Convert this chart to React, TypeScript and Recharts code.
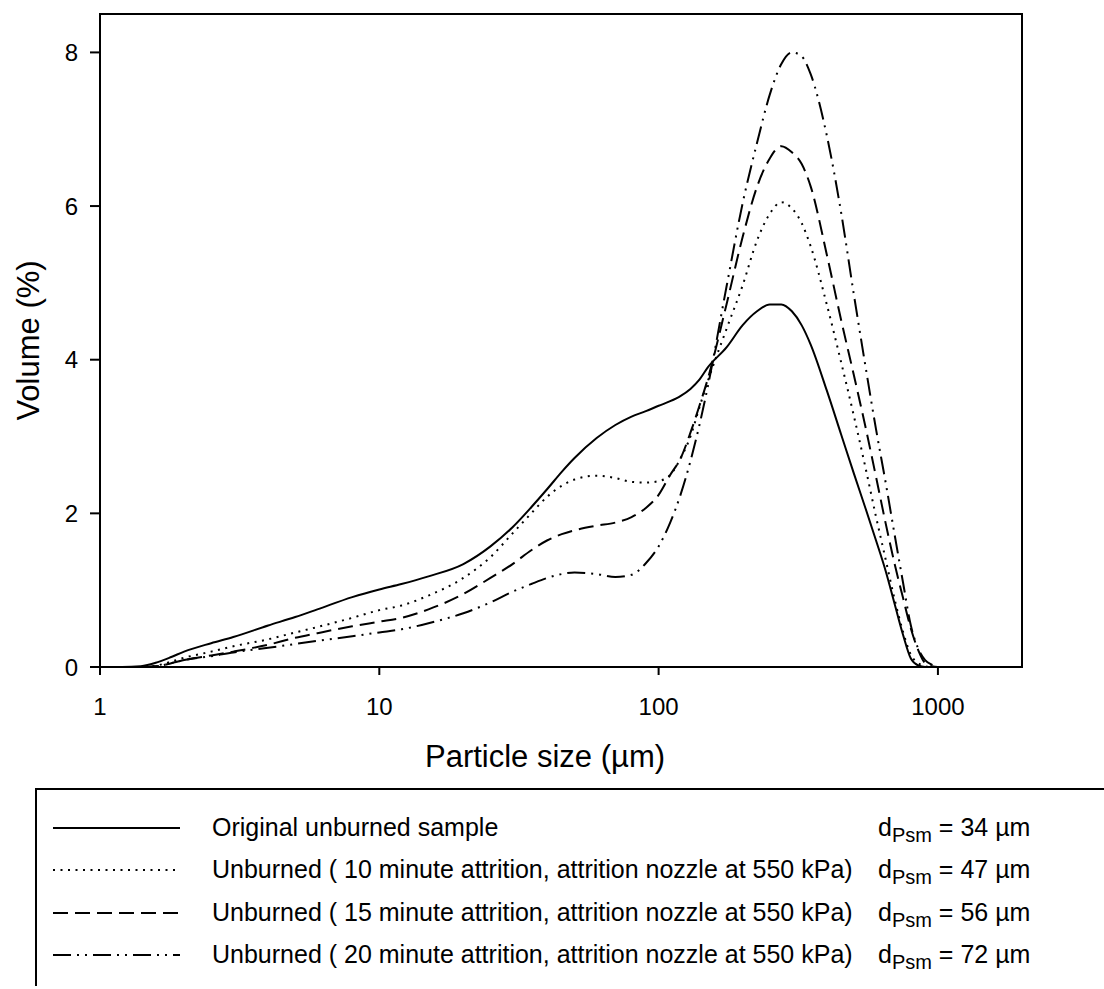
import React from 'react'
import {
    LineChart,
    Line,
    XAxis,
    YAxis,
    ReferenceArea,
} from 'recharts'

// particle size (µm), log axis
const sizes = [
    1, 1.2, 1.4, 1.6, 1.8, 2, 2.5, 3, 4, 5, 6, 8, 10, 12, 15, 20, 25, 30,
    35, 40, 45, 50, 60, 70, 80, 90, 100, 110, 120, 130, 140, 150, 175, 200, 225, 250,
    275, 300, 325, 350, 400, 450, 500, 550, 600, 650, 700, 750, 800, 850, 900, 950,
    1000, 1100, 1250,
]

// volume (%)
const original = [
    0, 0, 0.01, 0.06, 0.13, 0.2, 0.31, 0.39, 0.54, 0.65, 0.75, 0.91, 1.01, 1.08, 1.18, 1.34, 1.57, 1.82,
    2.08, 2.32, 2.54, 2.72, 2.98, 3.15, 3.26, 3.33, 3.4, 3.46, 3.53, 3.62, 3.74, 3.9, 4.16, 4.45, 4.63, 4.72,
    4.72, 4.63, 4.45, 4.2, 3.6, 3.03, 2.52, 2.07, 1.65, 1.25, 0.82, 0.42, 0.11, 0.02, 0, 0,
    0, 0, 0,
]
const min10 = [
    0, 0, 0, 0.02, 0.07, 0.12, 0.2, 0.27, 0.36, 0.45, 0.52, 0.64, 0.74, 0.8, 0.93, 1.16, 1.43, 1.74,
    2.0, 2.22, 2.36, 2.44, 2.49, 2.46, 2.41, 2.4, 2.42, 2.5, 2.72, 3.0, 3.38, 3.72, 4.4, 4.97, 5.55, 5.9,
    6.05, 5.97, 5.78, 5.48, 4.72, 3.97, 3.27, 2.6, 1.96, 1.4, 0.88, 0.46, 0.16, 0.05, 0.01, 0,
    0, 0, 0,
]
const min15 = [
    0, 0, 0, 0.01, 0.05, 0.09, 0.15, 0.2, 0.29, 0.38, 0.44, 0.53, 0.59, 0.64, 0.75, 0.95, 1.16, 1.34,
    1.52, 1.65, 1.73, 1.78, 1.84, 1.88, 1.95, 2.07, 2.24, 2.5, 2.72, 3.05, 3.4, 3.75, 4.72, 5.6, 6.25, 6.62,
    6.78, 6.7, 6.55, 6.26, 5.37, 4.52, 3.8, 3.13, 2.48, 1.87, 1.34, 0.9, 0.5, 0.22, 0.05, 0.01,
    0, 0, 0,
]
const min20 = [
    0, 0, 0, 0.01, 0.05, 0.09, 0.14, 0.19, 0.25, 0.3, 0.34, 0.4, 0.45, 0.49, 0.57, 0.7, 0.84, 0.98,
    1.08, 1.16, 1.21, 1.23, 1.21, 1.17, 1.2, 1.35, 1.57, 1.88, 2.25, 2.68, 3.15, 3.65, 4.95, 6.04, 6.82, 7.45,
    7.85, 8.0, 7.95, 7.72, 6.92, 5.92, 4.85, 3.92, 3.1, 2.4, 1.72, 1.1, 0.54, 0.24, 0.09, 0.03,
    0, 0, 0,
]

const xTicks = [1, 10, 100, 1000]
const yTicks = [0, 2, 4, 6, 8]

const legendItems = [
    { label: 'Original unburned sample', dpsm: '34', dash: undefined },
    { label: 'Unburned ( 10 minute attrition, attrition nozzle at 550 kPa)', dpsm: '47', dash: '2 5.5' },
    { label: 'Unburned ( 15 minute attrition, attrition nozzle at 550 kPa)', dpsm: '56', dash: '15 7' },
    { label: 'Unburned ( 20 minute attrition, attrition nozzle at 550 kPa)', dpsm: '72', dash: '18 6 2 6 2 6' },
]

const data = sizes.map((s, i) => ({
    size: s,
    original: original[i],
    min10: min10[i],
    min15: min15[i],
    min20: min20[i],
}))

const font = '"Liberation Sans", Arial, sans-serif'

export default function App() {
    const rowBase = [836, 878, 921, 963]
    return (
        <div style={{ position: 'absolute', left: 0, top: 0, width: 1104, height: 989, background: '#fff', fontFamily: font }}>
            <LineChart
                width={1104}
                height={989}
                data={data}
                margin={{ top: 14, right: 82, bottom: 212, left: 0 }}
            >
                <XAxis
                    dataKey="size"
                    type="number"
                    scale="log"
                    domain={[1, 2000]}
                    ticks={xTicks}
                    height={110}
                    stroke="#000"
                    strokeWidth={2}
                    tickSize={8}
                    tickMargin={23}
                    tick={{ fill: '#000', fontSize: 24, fontFamily: font }}
                    label={{
                        value: 'Particle size (µm)',
                        position: 'insideTop',
                        offset: 78,
                        dx: -16,
                        style: { fill: '#000', fontSize: 31, fontFamily: font },
                    }}
                />
                <YAxis
                    type="number"
                    domain={[0, 8.5]}
                    ticks={yTicks}
                    width={100}
                    stroke="#000"
                    strokeWidth={2}
                    tickSize={10}
                    tickMargin={12}
                    tick={{ fill: '#000', fontSize: 24, fontFamily: font }}
                    label={{
                        value: 'Volume (%)',
                        angle: -90,
                        position: 'insideLeft',
                        offset: 28,
                        style: { fill: '#000', fontSize: 31, fontFamily: font, textAnchor: 'middle' },
                    }}
                />
                <ReferenceArea x1={1} x2={2000} y1={0} y2={8.5} fill="none" stroke="#000" strokeWidth={2} />
                <Line type="monotone" dataKey="original" stroke="#000" strokeWidth={2} dot={false} isAnimationActive={false} />
                <Line type="monotone" dataKey="min10" stroke="#000" strokeWidth={2} strokeDasharray="2 5.5" dot={false} isAnimationActive={false} />
                <Line type="monotone" dataKey="min15" stroke="#000" strokeWidth={2} strokeDasharray="15 7" dot={false} isAnimationActive={false} />
                <Line type="monotone" dataKey="min20" stroke="#000" strokeWidth={2} strokeDasharray="18 6 2 6 2 6" dot={false} isAnimationActive={false} />
            </LineChart>
            <svg width={1104} height={989} style={{ position: 'absolute', left: 0, top: 0, pointerEvents: 'none' }}>
                <line x1={36} y1={789} x2={1104} y2={789} stroke="#000" strokeWidth={2} />
                <line x1={36} y1={788} x2={36} y2={986} stroke="#000" strokeWidth={2} />
                {legendItems.map((item, i) => (
                    <g key={item.dpsm} fontFamily={font} fill="#000">
                        <line x1={53} x2={180} y1={rowBase[i] - 8} y2={rowBase[i] - 8} stroke="#000" strokeWidth={2} strokeDasharray={item.dash} />
                        <text x={212} y={rowBase[i]} fontSize={25}>{item.label}</text>
                        <text x={878} y={rowBase[i]} fontSize={25}>
                            d<tspan fontSize={20} dy={6}>Psm</tspan>
                            <tspan dy={-6}>{` = ${item.dpsm} µm`}</tspan>
                        </text>
                    </g>
                ))}
            </svg>
        </div>
    )
}
